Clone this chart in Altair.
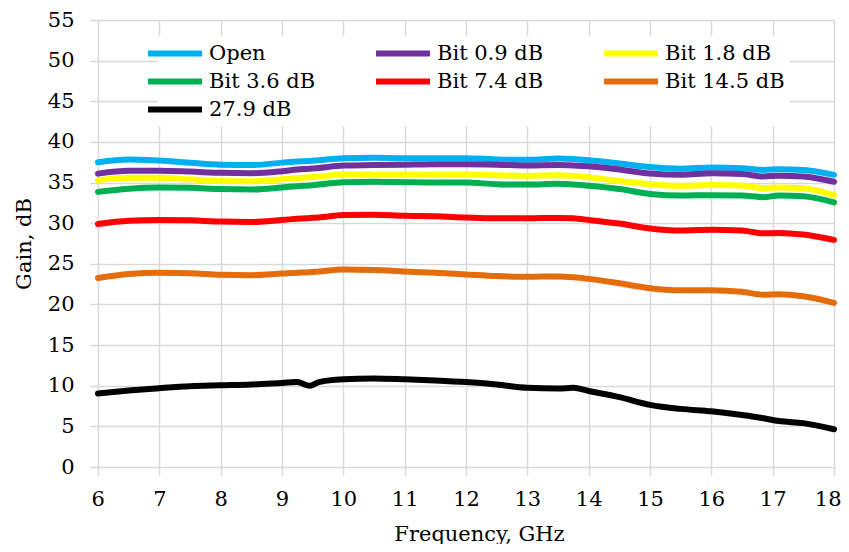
import altair as alt
import pandas as pd

freq = [6, 6.5, 7, 7.5, 8, 8.5, 9, 9.25, 9.45, 9.6, 10, 10.5, 11, 11.5, 12,
        12.5, 13, 13.5, 13.75, 14, 14.5, 15, 15.5, 16, 16.5, 16.85, 17.1, 17.5, 18]

open_gain = [37.5, 37.85, 37.7, 37.45, 37.2, 37.15, 37.45, 37.6, 37.65, 37.75, 38.0, 38.05,
             38.0, 38.0, 38.0, 37.85, 37.8, 37.95, 37.9, 37.75, 37.35, 36.9, 36.7, 36.85,
             36.75, 36.55, 36.65, 36.55, 35.95]
bit09_gain = [36.1, 36.45, 36.45, 36.35, 36.2, 36.15, 36.4, 36.6, 36.7, 36.8, 37.1, 37.15,
              37.2, 37.25, 37.25, 37.2, 37.1, 37.15, 37.1, 37.0, 36.6, 36.1, 35.95, 36.15,
              36.05, 35.75, 35.85, 35.75, 35.1]
bit18_gain = [35.3, 35.6, 35.6, 35.4, 35.2, 35.15, 35.4, 35.55, 35.65, 35.75, 36.0, 36.0,
              36.0, 35.95, 36.0, 35.9, 35.85, 35.9, 35.85, 35.65, 35.2, 34.8, 34.6, 34.7,
              34.65, 34.3, 34.4, 34.3, 33.45]
bit36_gain = [33.85, 34.25, 34.4, 34.35, 34.2, 34.15, 34.4, 34.55, 34.65, 34.75, 35.05, 35.1,
              35.05, 35.0, 35.0, 34.8, 34.75, 34.85, 34.75, 34.6, 34.2, 33.6, 33.4, 33.45,
              33.4, 33.2, 33.4, 33.3, 32.55]
bit74_gain = [29.9, 30.3, 30.4, 30.35, 30.2, 30.15, 30.4, 30.55, 30.65, 30.7, 31.0, 31.05,
              30.9, 30.85, 30.7, 30.6, 30.6, 30.65, 30.6, 30.4, 29.95, 29.35, 29.1, 29.2,
              29.1, 28.75, 28.8, 28.6, 27.95]
bit145_gain = [23.25, 23.75, 23.9, 23.85, 23.65, 23.6, 23.8, 23.9, 23.95, 24.05, 24.3, 24.25,
               24.05, 23.9, 23.7, 23.5, 23.4, 23.45, 23.35, 23.15, 22.6, 22.0, 21.75, 21.75,
               21.55, 21.2, 21.25, 21.0, 20.2]
db279_gain = [9.05, 9.4, 9.7, 9.95, 10.05, 10.15, 10.35, 10.45, 10.0, 10.45, 10.8, 10.9,
              10.8, 10.65, 10.45, 10.15, 9.75, 9.65, 9.75, 9.35, 8.6, 7.65, 7.15, 6.85,
              6.4, 6.0, 5.65, 5.4, 4.65]

series_names = ["Open", "Bit 0.9 dB", "Bit 1.8 dB", "Bit 3.6 dB", "Bit 7.4 dB", "Bit 14.5 dB", "27.9 dB"]
series_values = [open_gain, bit09_gain, bit18_gain, bit36_gain, bit74_gain, bit145_gain, db279_gain]
colors = ["#00b0f0", "#7030a0", "#ffff00", "#00b050", "#ff0000", "#e46c0a", "#000000"]

x_ticks = [6, 7, 8, 9, 10, 11, 12, 13, 14, 15, 16, 17, 18]
y_ticks = [0, 5, 10, 15, 20, 25, 30, 35, 40, 45, 50, 55]

rows = []
for name, vals in zip(series_names, series_values):
    for f, v in zip(freq, vals):
        rows.append({"freq": f, "gain": v, "series": name})
df = pd.DataFrame(rows)

FONT = "DejaVu Serif"
FS = 21
GRID = "#d9d9d9"

chart = alt.Chart(df).mark_line(
    strokeWidth=6, interpolate="monotone", strokeCap="round", strokeJoin="round"
).encode(
    x=alt.X("freq:Q",
            scale=alt.Scale(domain=[6, 18], nice=False, zero=False),
            axis=alt.Axis(values=x_ticks, title="Frequency, GHz", domain=False,
                          grid=True, gridColor=GRID, gridWidth=1.5,
                          ticks=True, tickColor=GRID, tickWidth=1.5, tickSize=8,
                          labelFont=FONT, labelFontSize=FS, labelColor="black",
                          labelPadding=13, labelFlush=True, labelFlushOffset=7,
                          labelOverlap=False,
                          titleFont=FONT, titleFontSize=FS, titleFontWeight="normal",
                          titleColor="black", titleX=381, titleY=73,
                          titleBaseline="alphabetic", titleAlign="center")),
    y=alt.Y("gain:Q",
            scale=alt.Scale(domain=[0, 55], nice=False),
            axis=alt.Axis(values=y_ticks, title="Gain, dB", domain=False,
                          grid=True, gridColor=GRID, gridWidth=1.5,
                          ticks=True, tickColor=GRID, tickWidth=1.5, tickSize=8,
                          labelFont=FONT, labelFontSize=FS, labelColor="black",
                          labelPadding=16, labelFlush=False, labelOverlap=False,
                          titleFont=FONT, titleFontSize=FS, titleFontWeight="normal",
                          titleColor="black", titleX=-68, titleY=223.5,
                          titleBaseline="alphabetic", titleAlign="center", titleAngle=270)),
    color=alt.Color("series:N",
                    scale=alt.Scale(domain=series_names, range=colors),
                    sort=series_names,
                    legend=alt.Legend(title=None, orient="none", legendX=60, legendY=16.5,
                                      direction="horizontal",
                                      columns=3, symbolType="M-3,0L3,0", symbolSize=324,
                                      symbolStrokeWidth=6, labelFont=FONT, labelFontSize=FS,
                                      labelColor="black", labelOffset=22, columnPadding=35,
                                      rowPadding=4, gridAlign="all", fillColor="white",
                                      padding=5, labelLimit=300)),
).properties(
    width=736, height=447, autosize="none",
    padding={"left": 90, "top": 12, "right": 7, "bottom": 77}
).configure_view(stroke=None)

chart.save("out.html", embed_options={"renderer": "svg", "actions": False})
